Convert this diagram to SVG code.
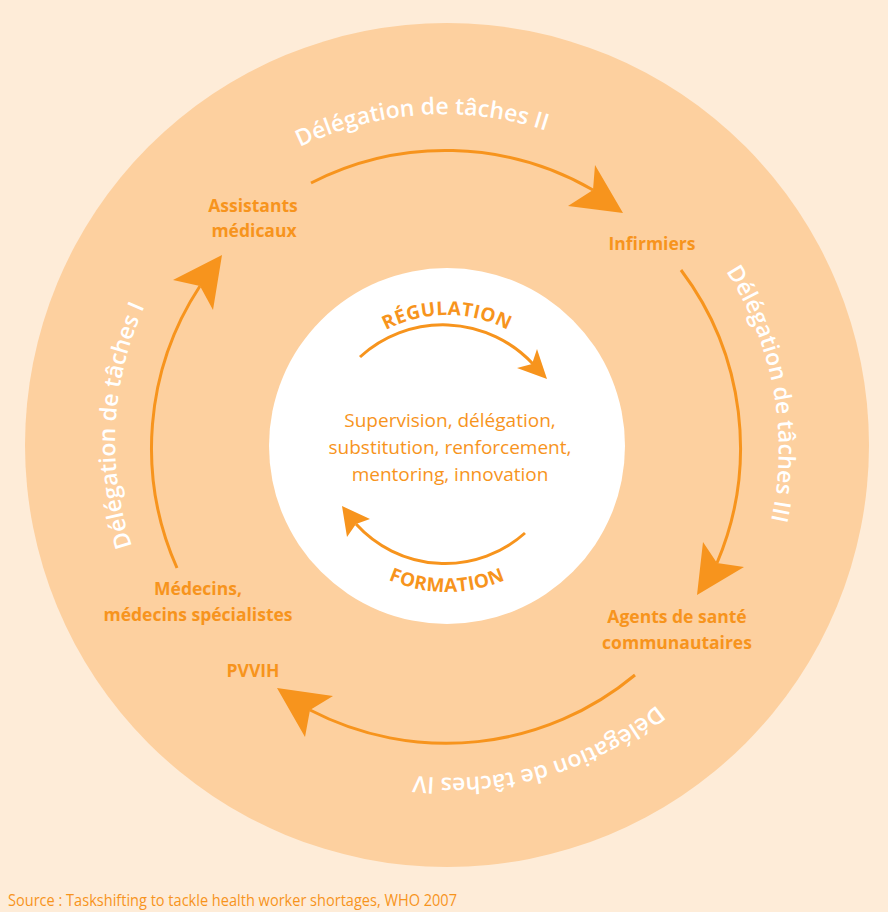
<svg xmlns="http://www.w3.org/2000/svg" xmlns:xlink="http://www.w3.org/1999/xlink" width="888" height="912" viewBox="0 0 888 912">
<style>
.lbl{font-family:"Open Sans","Liberation Sans",sans-serif;font-weight:700;font-size:17.5px;fill:#F7941D;text-anchor:middle}
.ctr{font-family:"Open Sans","Liberation Sans",sans-serif;font-weight:400;font-size:19px;fill:#F7941D;text-anchor:middle}
.del{font-family:"Open Sans","Liberation Sans",sans-serif;font-weight:600;font-size:23px;fill:#FFFFFF;text-anchor:middle}
.cap{font-family:"Open Sans","Liberation Sans",sans-serif;font-weight:700;font-size:19px;fill:#F7941D;text-anchor:middle;letter-spacing:0.4px}
.arc{fill:none;stroke:#F7941D;stroke-width:3}
.head{fill:#F7941D}
</style>
<defs>
<path id="outerPath" d="M 215.1,677.9 A 328 328 0 1 1 678.9,214.1 A 328 328 0 1 1 215.1,677.9"/>
<path id="topPath" d="M 316,446 A 131 131 0 0 1 578,446"/>
<path id="botPath" d="M 301,446 A 146 146 0 0 0 593,446"/>
</defs>
<rect x="0" y="0" width="888" height="912" fill="#FEECD8"/>
<circle cx="447" cy="445" r="422" fill="#FDD09F"/>
<circle cx="447" cy="446" r="178" fill="#FFFFFF"/>

<g id="connectors">
<path class="arc" d="M 311,183 A 295 295 0 0 1 593,190"/>
<polygon class="head" points="623,213 595,165 593,190 568,206"/>
<path class="arc" d="M 681,270 A 295 295 0 0 1 717,563"/>
<polygon class="head" points="697,595 703,542 717,563 744,567"/>
<path class="arc" d="M 635,675 A 295 295 0 0 1 310,710"/>
<polygon class="head" points="277,688 333,696 310,710 305,737"/>
<path class="arc" d="M 177,568 A 295 295 0 0 1 200,286"/>
<polygon class="head" points="222,255 173,280 200,286 213,310"/>
<path class="arc" d="M 360,357 A 123 123 0 0 1 533,364"/>
<polygon class="head" points="547,379 537,349 532,364 517,368"/>
<path class="arc" d="M 525,533 A 120 120 0 0 1 356,524"/>
<polygon class="head" points="342,506 370,519 356,524 347,537"/>
<text class="del"><textPath xlink:href="#outerPath" href="#outerPath" startOffset="280">Délégation de tâches I</textPath></text>
<text class="del"><textPath xlink:href="#outerPath" href="#outerPath" startOffset="756">Délégation de tâches II</textPath></text>
<text class="del"><textPath xlink:href="#outerPath" href="#outerPath" startOffset="1245">Délégation de tâches III</textPath></text>
<text class="del"><textPath xlink:href="#outerPath" href="#outerPath" startOffset="1726">Délégation de tâches IV</textPath></text>
<text class="cap"><textPath xlink:href="#topPath" href="#topPath" startOffset="50%">RÉGULATION</textPath></text>
<text class="cap"><textPath xlink:href="#botPath" href="#botPath" startOffset="50%">FORMATION</textPath></text>
</g>

<g id="node-assistants">
<text class="lbl" x="253" y="212">Assistants</text>
<text class="lbl" x="254" y="237">médicaux</text>
</g>
<g id="node-infirmiers">
<text class="lbl" x="652" y="250">Infirmiers</text>
</g>
<g id="node-agents">
<text class="lbl" x="677" y="623">Agents de santé</text>
<text class="lbl" x="677" y="649">communautaires</text>
</g>
<g id="node-medecins">
<text class="lbl" x="198" y="595">Médecins,</text>
<text class="lbl" x="198" y="621">médecins spécialistes</text>
</g>
<g id="node-pvvih">
<text class="lbl" x="253" y="677">PVVIH</text>
</g>
<g id="node-centre">
<text class="ctr" x="450" y="427">Supervision, délégation,</text>
<text class="ctr" x="450" y="454">substitution, renforcement,</text>
<text class="ctr" x="450" y="481">mentoring, innovation</text>
</g>
<text x="8" y="906" font-family="Open Sans, Liberation Sans, sans-serif" font-size="16" fill="#F7941D" textLength="449" lengthAdjust="spacingAndGlyphs">Source : Taskshifting to tackle health worker shortages, WHO 2007</text>
</svg>
